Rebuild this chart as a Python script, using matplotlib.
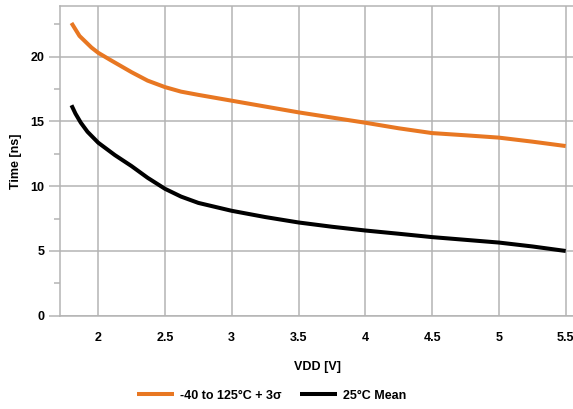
import numpy as np
import matplotlib.pyplot as plt
from matplotlib.ticker import MultipleLocator

plt.rcParams['font.family'] = ['Liberation Sans', 'DejaVu Sans']
plt.rcParams['font.weight'] = 'bold'

vdd_hot = [1.8, 1.83, 1.86, 1.9, 1.95, 2.0, 2.09, 2.25, 2.37, 2.5, 2.62, 2.75,
           3.0, 3.25, 3.5, 3.75, 4.0, 4.25, 4.5, 4.75, 5.0, 5.25, 5.5]
time_hot = [22.6, 22.1, 21.6, 21.2, 20.7, 20.3, 19.75, 18.8, 18.15, 17.65, 17.3, 17.05,
            16.6, 16.15, 15.7, 15.3, 14.9, 14.47, 14.1, 13.93, 13.75, 13.44, 13.1]

vdd_mean = [1.8, 1.83, 1.87, 1.92, 2.0, 2.125, 2.25, 2.37, 2.5, 2.62, 2.75,
            3.0, 3.25, 3.5, 3.75, 4.0, 4.25, 4.5, 4.75, 5.0, 5.25, 5.5]
time_mean = [16.25, 15.6, 14.9, 14.2, 13.36, 12.4, 11.55, 10.65, 9.8, 9.2, 8.71,
             8.1, 7.62, 7.2, 6.87, 6.58, 6.33, 6.07, 5.86, 5.65, 5.35, 5.0]

labels = ['-40 to 125°C + 3σ', '25°C Mean']
colors = ['#E87722', '#000000']

fig = plt.figure(figsize=(5.73, 4.09), dpi=100)
ax = fig.add_axes([0.1047, 0.228, 0.9, 0.757])

ax.plot(vdd_hot, time_hot, color=colors[0], lw=2.9, label=labels[0], solid_capstyle='butt')
ax.plot(vdd_mean, time_mean, color=colors[1], lw=2.9, label=labels[1], solid_capstyle='butt')

ax.set_xlim(1.714, 5.575)
ax.set_ylim(0, 23.9)
ax.yaxis.set_major_locator(MultipleLocator(5))
ax.yaxis.set_minor_locator(MultipleLocator(2.5))
ax.set_xticks([2, 2.5, 3, 3.5, 4, 4.5, 5, 5.5])
ax.set_xticklabels(['2', '2.5', '3', '3.5', '4', '4.5', '5', '5.5'])

ax.grid(True, which='major', color='#B4B4B4', lw=1.1)
ax.set_axisbelow(True)
for s in ['left', 'bottom', 'top']:
    ax.spines[s].set_color('#B4B4B4')
    ax.spines[s].set_linewidth(1.1)
ax.spines['right'].set_visible(False)

fs = 9
ax.tick_params(axis='x', length=0, pad=12, labelsize=fs)
ax.tick_params(axis='y', which='major', length=8, width=1.1, color='#B4B4B4', pad=3, labelsize=fs)
ax.tick_params(axis='y', which='minor', length=4.3, width=1.1, color='#B4B4B4')
for t in ax.get_xticklabels() + ax.get_yticklabels():
    t.set_fontweight('bold')

ax.set_xlabel('VDD [V]', fontsize=fs, fontweight='bold', labelpad=12)
ax.set_ylabel('Time [ns]', fontsize=fs, fontweight='bold', labelpad=6)

fig.legend(loc='lower center', bbox_to_anchor=(0.474, -0.01), ncol=2, frameon=False,
           handlelength=2.96, handletextpad=0.48, columnspacing=1.5,
           prop={'weight': 'bold', 'size': fs})

fig.savefig('out.png', dpi=100)
